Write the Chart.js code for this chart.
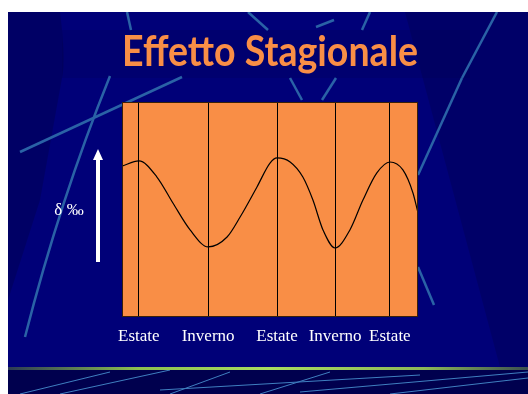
<!DOCTYPE html>
<html>
<head>
<meta charset="utf-8">
<script src="https://cdn.jsdelivr.net/npm/chart.js@4"></script>
<style>
  html, body { margin: 0; padding: 0; background: #fff; }
  #wrap { width: 528px; height: 394px; }
</style>
</head>
<body>
<div id="wrap"><canvas id="stagionale" width="528" height="394"></canvas></div>
<script>
// x position across the years (0..100), value of delta per mil (0..100 arbitrary)
const curveX = [0, 5.7, 11.8, 17.2, 23.0, 29.1, 35.5, 39.9, 45.6, 50.0, 52.4, 56.8, 61.1, 64.5, 67.9, 72.0, 77.0, 81.4, 86.1, 90.5, 94.9, 98.3, 100];
const curveY = [70.2, 72.6, 65.1, 53.0, 40.5, 32.6, 37.2, 46.5, 60.5, 71.6, 74.0, 72.1, 65.1, 54.4, 40.5, 32.1, 40.5, 54.4, 67.0, 72.1, 68.4, 57.7, 48.4];

const seasonPos = [5.7, 29.1, 52.4, 72.0, 90.5];
const seasonLabels = ['Estate', 'Inverno', 'Estate', 'Inverno', 'Estate'];

const navy = '#000078';

const slideBackground = {
    id: 'slideBackground',
    beforeDraw(chart) {
        const ctx = chart.ctx;
        const a = chart.chartArea;
        ctx.save();
        ctx.fillStyle = '#ffffff';
        ctx.fillRect(0, 0, 528, 394);
        ctx.beginPath();
        ctx.rect(8, 12, 520, 382);
        ctx.clip();
        ctx.fillStyle = navy;
        ctx.fillRect(8, 12, 520, 382);

        // darker shapes
        ctx.fillStyle = 'rgba(0,0,60,0.3)';
        ctx.beginPath();
        ctx.moveTo(8, 12); ctx.lineTo(60, 12); ctx.quadraticCurveTo(66, 60, 62, 78);
        ctx.lineTo(40, 200); ctx.lineTo(8, 300); ctx.closePath(); ctx.fill();
        ctx.fillStyle = 'rgba(0,0,50,0.22)';
        ctx.beginPath();
        ctx.moveTo(405, 12); ctx.lineTo(528, 12); ctx.lineTo(528, 367); ctx.lineTo(500, 367); ctx.closePath(); ctx.fill();
        ctx.fillStyle = 'rgba(0,0,70,0.18)';
        ctx.fillRect(62, 30, 408, 48);

        // light diagonal lines
        ctx.strokeStyle = '#2a62a6';
        ctx.lineWidth = 2.5;
        const seg = (x1, y1, x2, y2) => { ctx.beginPath(); ctx.moveTo(x1, y1); ctx.lineTo(x2, y2); ctx.stroke(); };
        ctx.beginPath(); ctx.moveTo(110, 76); ctx.quadraticCurveTo(60, 200, 25, 337); ctx.stroke();
        seg(20, 152, 182, 77);
        seg(127, 12, 131, 30);
        seg(248, 12, 268, 30);
        seg(290, 78, 302, 100);
        seg(336, 78, 322, 100);
        seg(316, 27, 334, 20);
        seg(370, 12, 362, 30);
        seg(497, 12, 462, 78);
        seg(462, 78, 418, 175);
        seg(418, 267, 434, 305);

        // bottom band
        ctx.fillStyle = '#00004e';
        ctx.fillRect(8, 370, 520, 24);
        ctx.strokeStyle = '#3f7fc0';
        ctx.lineWidth = 1;
        seg(20, 394, 110, 372);
        seg(60, 394, 170, 370);
        seg(170, 394, 230, 372);
        seg(160, 390, 420, 375);
        seg(260, 394, 330, 372);
        seg(300, 392, 528, 372);
        seg(390, 394, 528, 378);

        // green stripe
        const g = ctx.createLinearGradient(8, 0, 528, 0);
        g.addColorStop(0, '#2c3a55');
        g.addColorStop(0.25, '#8cc050');
        g.addColorStop(0.5, '#a8dc60');
        g.addColorStop(0.8, '#8cb858');
        g.addColorStop(1, '#3c5050');
        ctx.fillStyle = g;
        ctx.fillRect(8, 367, 520, 3);
        ctx.restore();

        // plot area
        ctx.save();
        ctx.fillStyle = '#f98e46';
        ctx.fillRect(a.left, a.top, a.right - a.left, a.bottom - a.top);
        ctx.restore();
    },
    afterDraw(chart) {
        const ctx = chart.ctx;
        const a = chart.chartArea;
        ctx.save();
        ctx.strokeStyle = '#3a2008';
        ctx.lineWidth = 1;
        ctx.strokeRect(a.left + 0.5, a.top + 0.5, a.right - a.left - 1, a.bottom - a.top - 1);

        // arrow
        ctx.fillStyle = '#ffffff';
        ctx.fillRect(96, 159, 4, 103);
        ctx.beginPath();
        ctx.moveTo(98, 149); ctx.lineTo(103, 160); ctx.lineTo(93, 160); ctx.closePath(); ctx.fill();

        ctx.font = '17px "Liberation Serif", serif';
        ctx.textAlign = 'center';
        ctx.textBaseline = 'middle';
        ctx.fillText('δ ‰', 69, 211);
        ctx.restore();
    }
};

new Chart(document.getElementById('stagionale'), {
    type: 'line',
    data: {
        datasets: [{
            data: curveX.map((x, i) => ({ x: x, y: curveY[i] })),
            borderColor: '#000000',
            borderWidth: 1.2,
            pointRadius: 0,
            tension: 0.4,
            cubicInterpolationMode: 'monotone',
            fill: false
        }]
    },
    options: {
        responsive: false,
        animation: false,
        devicePixelRatio: 1,
        layout: { padding: { top: 27, left: 122, right: 110, bottom: 0 } },
        plugins: {
            legend: { display: false },
            tooltip: { enabled: false },
            title: {
                display: true,
                text: 'Effetto Stagionale',
                color: '#f98e46',
                font: { family: 'Lato', size: 42, weight: 'bold', lineHeight: 1.2 },
                padding: { top: 0, bottom: 24.6 }
            }
        },
        scales: {
            x: {
                type: 'linear',
                min: 0,
                max: 100,
                afterBuildTicks: scale => { scale.ticks = seasonPos.map(v => ({ value: v })); },
                afterFit: scale => { scale.height = 77; },
                ticks: {
                    color: '#ffffff',
                    padding: 9,
                    autoSkip: false,
                    maxRotation: 0,
                    font: { family: '"Liberation Serif", serif', size: 17 },
                    callback: (v, i) => seasonLabels[i]
                },
                grid: { color: '#000000', lineWidth: 1, drawTicks: false },
                border: { display: false }
            },
            y: {
                display: false,
                min: 0,
                max: 100
            }
        }
    },
    plugins: [slideBackground]
});
</script>
</body>
</html>
